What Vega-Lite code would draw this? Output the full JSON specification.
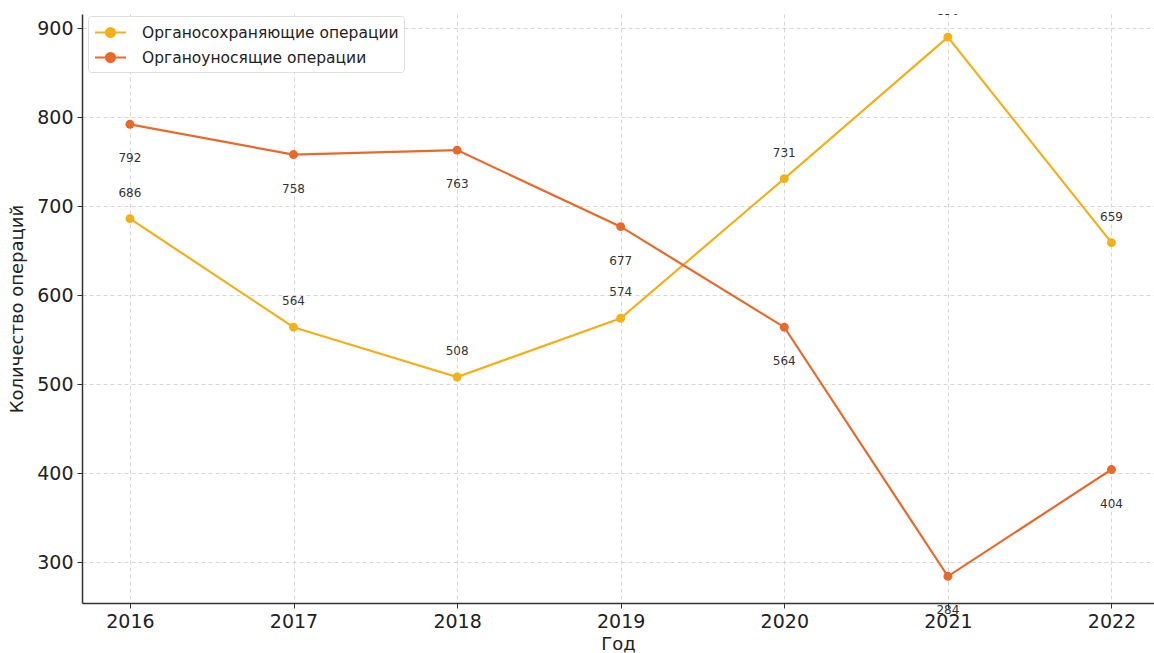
{
  "$schema": "https://vega.github.io/schema/vega-lite/v6.json",
  "width": 1072,
  "height": 589,
  "autosize": {"type": "none"},
  "padding": {"left": 82, "top": 14, "right": 0, "bottom": 50},
  "background": "white",
  "config": {
    "font": "DejaVu Sans",
    "view": {"stroke": null},
    "axis": {
      "domainColor": "#333333",
      "domainWidth": 1.5,
      "tickColor": "#333333",
      "tickSize": 5,
      "tickWidth": 1,
      "labelColor": "#222222",
      "labelFontSize": 19,
      "labelFont": "DejaVu Sans",
      "titleFont": "DejaVu Sans",
      "titleFontSize": 18,
      "titleFontWeight": "normal",
      "titleColor": "#222222",
      "gridColor": "#cccccc",
      "gridDash": [4, 3],
      "gridWidth": 0.8
    }
  },
  "data": {
    "values": [
      {"year": 2016, "series": "Органосохраняющие операции", "value": 686},
      {"year": 2017, "series": "Органосохраняющие операции", "value": 564},
      {"year": 2018, "series": "Органосохраняющие операции", "value": 508},
      {"year": 2019, "series": "Органосохраняющие операции", "value": 574},
      {"year": 2020, "series": "Органосохраняющие операции", "value": 731},
      {"year": 2021, "series": "Органосохраняющие операции", "value": 890},
      {"year": 2022, "series": "Органосохраняющие операции", "value": 659},
      {"year": 2016, "series": "Органоуносящие операции", "value": 792},
      {"year": 2017, "series": "Органоуносящие операции", "value": 758},
      {"year": 2018, "series": "Органоуносящие операции", "value": 763},
      {"year": 2019, "series": "Органоуносящие операции", "value": 677},
      {"year": 2020, "series": "Органоуносящие операции", "value": 564},
      {"year": 2021, "series": "Органоуносящие операции", "value": 284},
      {"year": 2022, "series": "Органоуносящие операции", "value": 404}
    ]
  },
  "encoding": {
    "x": {
      "field": "year",
      "type": "quantitative",
      "scale": {"domain": [2015.707, 2022.26], "nice": false, "zero": false},
      "axis": {"values": [2016, 2017, 2018, 2019, 2020, 2021, 2022], "format": "d", "title": "Год", "labelPadding": 4, "titlePadding": 4, "labelFlush": false}
    },
    "y": {
      "field": "value",
      "type": "quantitative",
      "scale": {"domain": [254, 916], "nice": false, "zero": false},
      "axis": {"values": [300, 400, 500, 600, 700, 800, 900], "title": "Количество операций", "labelPadding": 4, "titlePadding": 10}
    }
  },
  "layer": [
    {
      "mark": {"type": "line", "strokeWidth": 2.2},
      "encoding": {
        "color": {
          "field": "series",
          "type": "nominal",
          "scale": {"domain": ["Органосохраняющие операции", "Органоуносящие операции"], "range": ["#F3B019", "#E8692A"]},
          "legend": {
            "title": null,
            "orient": "none",
            "legendX": 6,
            "legendY": 2,
            "fillColor": "white",
            "strokeColor": "#dddddd",
            "cornerRadius": 3,
            "padding": 5,
            "labelFontSize": 15.5,
            "labelLimit": 0,
            "labelColor": "#222222",
            "labelFont": "DejaVu Sans",
            "symbolType": "M-1.5,0H1.5M-0.44,0A0.44,0.44 0 1,0 0.44,0A0.44,0.44 0 1,0 -0.44,0Z",
            "symbolSize": 430,
            "symbolStrokeWidth": 2,
            "rowPadding": 4,
            "labelOffset": 20,
            "symbolOffset": 6
          }
        }
      }
    },
    {
      "mark": {"type": "point", "filled": true, "size": 80, "opacity": 1},
      "encoding": {
        "color": {"field": "series", "type": "nominal", "legend": null}
      }
    },
    {
      "transform": [{"filter": "datum.series === 'Органосохраняющие операции'"}],
      "mark": {"type": "text", "dy": -26, "fontSize": 12, "color": "#333333", "clip": true},
      "encoding": {"text": {"field": "value", "type": "quantitative"}}
    },
    {
      "transform": [{"filter": "datum.series === 'Органоуносящие операции'"}],
      "mark": {"type": "text", "dy": 34, "fontSize": 12, "color": "#333333"},
      "encoding": {"text": {"field": "value", "type": "quantitative"}}
    }
  ]
}
